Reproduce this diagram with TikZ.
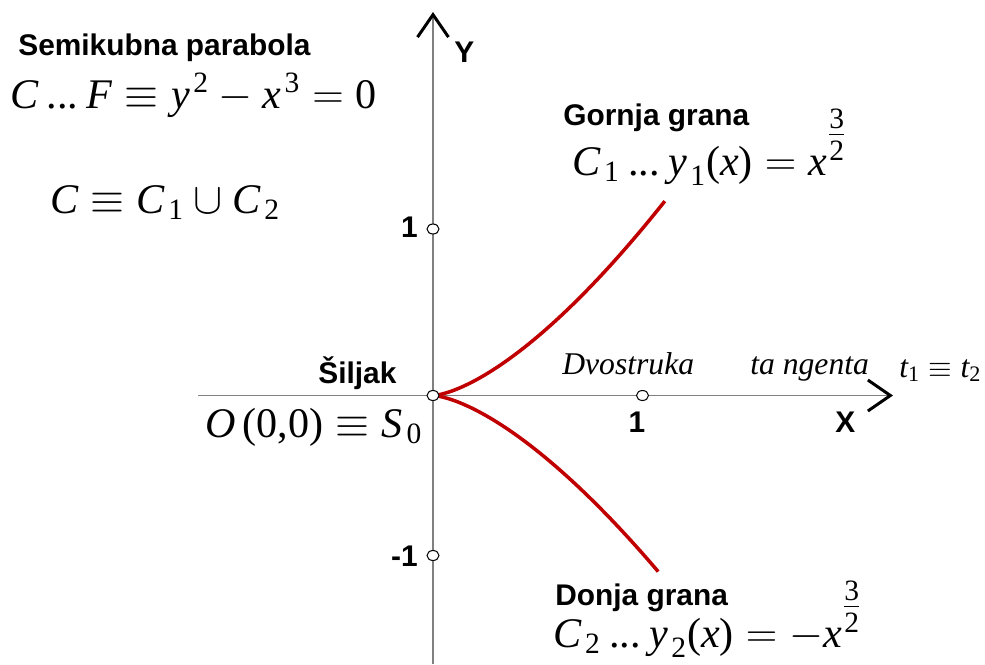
\documentclass[tikz,border=0pt]{standalone}
\usepackage{amsmath}
\usepackage{fontspec}
\setmainfont{Liberation Serif}
\newfontfamily\arialfont{Liberation Sans}
\usetikzlibrary{arrows.meta,shapes.geometric}
\definecolor{granacol}{RGB}{192,0,0}
\definecolor{osacol}{RGB}{128,128,128}
\newcommand{\vi}[1]{\text{\itshape #1}}
\newcommand{\vr}[1]{\text{\hspace{0.12em}#1}}
\newcommand{\tck}{\text{\hspace{0.2em}...\hspace{0.2em}}}
\newcommand{\trpol}{\raisebox{0.32em}{$\genfrac{}{}{0.5pt}{1}{\text{3}}{\text{2}}$}}

\tikzset{
  oznaka/.style={font=\arialfont\bfseries\fontsize{17}{20}\selectfont,inner sep=0pt},
  formula/.style={font=\fontsize{24}{28}\selectfont,inner sep=0pt,anchor=base west},
  opis/.style={font=\itshape\fontsize{18}{22}\selectfont,inner sep=0pt,anchor=base west},
  osa/.style={draw=osacol,line width=1.1pt,
    -{Straight Barb[color=black,length=0.45cm,width=0.62cm,line width=1.7pt]}},
  tacka/.style={ellipse,draw,fill=white,line width=0.6pt,inner sep=0pt,
    minimum width=0.24cm,minimum height=0.2cm},
  grana/.style={draw=granacol,line width=2pt}
}

\begin{document}
\begin{tikzpicture}[x=0.02cm,y=-0.02cm]
  \useasboundingbox (0,0) rectangle (985,664);

  % osi
  \coordinate (xl) at (198,395.5);
  \coordinate (xd) at (893,395.5);
  \coordinate (yd) at (433,664);
  \coordinate (yg) at (433,12);
  \draw[osa] (xl) -- (xd);
  \draw[osa] (yd) -- (yg);

  % grane
  \draw[grana] plot[domain=0:1.107,samples=60] ({433+209.5*\x},{395.5-167*\x*sqrt(\x)});
  \draw[grana] plot[domain=0:1.075,samples=60] ({433+209.5*\x},{395.5+158*\x*sqrt(\x)});

  % podjela
  \node[tacka] (O) at (433,395.5) {};
  \node[tacka] (x1) at (642.5,395.5) {};
  \node[tacka] (y1) at (433,229) {};
  \node[tacka] (ym1) at (433,555.5) {};

  % oznake osi
  \node[oznaka,anchor=base] (lx1) at (637,432) {1};
  \node[oznaka,anchor=base west] (lX) at (835,432) {X};
  \node[oznaka,anchor=base west] (lY) at (454,62) {Y};
  \node[oznaka,anchor=base east] (ly1) at (418,237) {1};
  \node[oznaka,anchor=base east] (lym1) at (418,566) {-1};

  % tekstovi
  \node[oznaka,anchor=base west] (naslov) at (18,55) {Semikubna parabola};
  \node[formula] (jedn) at (10,108) {$\vi{C}\tck\vi{F} \equiv \vi{y}^{\vr{2}} - \vi{x}^{\vr{3}} = \text{0}$};
  \node[formula] (unija) at (50,213) {$\vi{C} \equiv \vi{C}_{\vr{1}} \cup \vi{C}_{\vr{2}}$};

  \node[oznaka,anchor=base west] (gornja) at (563,125) {Gornja grana};
  \node[formula] (jgornja) at (572,175) {$\vi{C}_{\vr{1}}\tck\vi{y}_{\vr{1}}\text{(\itshape x\upshape)} = \vi{x}^{\trpol}$};

  \node[oznaka,anchor=base west] (donja) at (555,605) {Donja grana};
  \node[formula] (jdonja) at (553,647) {$\vi{C}_{\vr{2}}\tck\vi{y}_{\vr{2}}\text{(\itshape x\upshape)} = -\vi{x}^{\trpol}$};

  \node[oznaka,anchor=base west] (siljak) at (318,383) {Šiljak};
  \node[formula] (jsiljak) at (205,437) {$\vi{O}\text{\,(0,0)} \equiv \vi{S}_{\vr{0}}$};

  \node[opis] (dvo) at (562,374) {Dvostruka};
  \node[opis] (tan) at (750,374) {ta ngenta};
  \node[formula,font=\fontsize{18}{22}\selectfont] (tt) at (899,377) {$\vi{t}_{\text{1}} \equiv \vi{t}_{\text{2}}$};
\end{tikzpicture}
\end{document}
